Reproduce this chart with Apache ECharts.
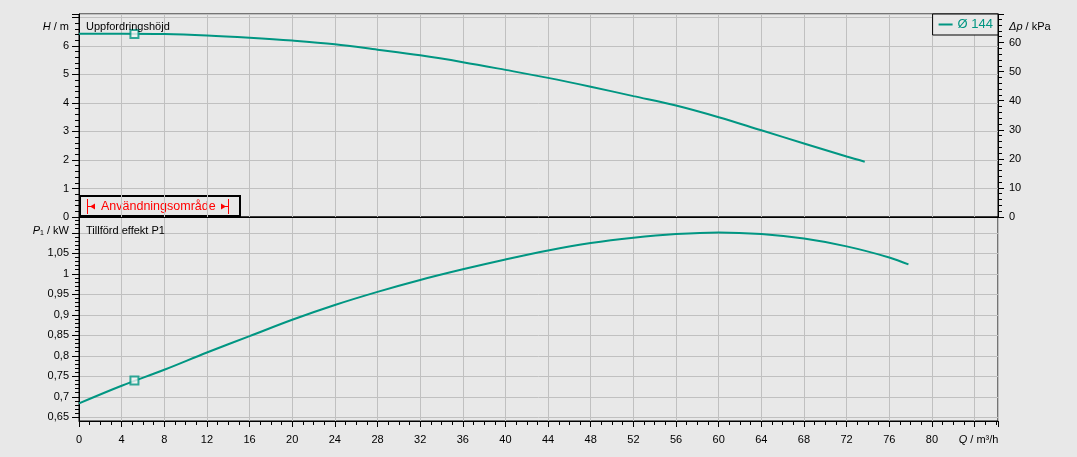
<!DOCTYPE html>
<html><head><meta charset="utf-8">
<script src="https://cdn.jsdelivr.net/npm/echarts@6/dist/echarts.min.js"></script>
<style>html,body{margin:0;padding:0;background:#e8e8e8}#c{width:1077px;height:457px}</style>
</head><body><div id="c"></div>
<script>
// ---- data ----
const flowQ_H = [0,4,8,12,16,20,24,28,32,36,40,44,48,52,56,60,64,68,72,73.7];
const headH   = [6.43,6.43,6.42,6.37,6.29,6.19,6.06,5.87,5.67,5.43,5.16,4.88,4.57,4.24,3.91,3.50,3.04,2.58,2.12,1.94];
const flowQ_P = [0,4,8,12,16,20,24,28,32,36,40,44,48,52,56,60,64,68,72,76,77.8];
const powerP1 = [0.684,0.727,0.766,0.808,0.848,0.888,0.924,0.956,0.985,1.011,1.035,1.057,1.075,1.088,1.097,1.101,1.097,1.086,1.067,1.040,1.023];
const dutyQ = 5.2, dutyH = 6.42, dutyP = 0.74;
const seriesName = 'Ø 144';
// tick values
const pMajorTicks = [0.65,0.7,0.75,0.8,0.85,0.9,0.95,1,1.05,1.1];
const pLabelTicks = [0.65,0.7,0.75,0.8,0.85,0.9,0.95,1,1.05];
const pMinorTicks = [];
for (let i = 65; i <= 113; i++) pMinorTicks.push(i / 100);

const TEAL = '#009682', GRID = '#c0c0c0', BG = '#e8e8e8', FONT = 'Liberation Sans, Arial, sans-serif';
const lbl = { color: '#000', fontFamily: FONT, fontSize: 11 };
const noMinorSplit = { show: false };

const chart = echarts.init(document.getElementById('c'), null, { renderer: 'canvas' });
const zip = (a, b) => a.map((v, i) => [v, b[i]]);

chart.setOption({
  backgroundColor: BG,
  animation: false,
  textStyle: { fontFamily: FONT },
  grid: [
    { left: 79, right: 79, top: 14, height: 203, show: true, borderColor: '#000', borderWidth: 1, backgroundColor: 'transparent' },
    { left: 79, right: 79, top: 217, bottom: 36, show: true, borderColor: '#000', borderWidth: 1, backgroundColor: 'transparent' }
  ],
  legend: {
    data: [seriesName], right: 79, top: 14, orient: 'horizontal',
    padding: [4, 5, 4, 6], itemGap: 4, itemWidth: 14, itemHeight: 2,
    icon: 'rect', borderColor: '#000', borderWidth: 1, borderRadius: 0, backgroundColor: BG,
    textStyle: { color: TEAL, fontSize: 13, fontFamily: FONT, padding: [0, 0, 0, 0] },
    itemStyle: { color: TEAL }
  },
  xAxis: [
    { type: 'value', gridIndex: 0, min: 0, max: 86.2, interval: 4,
      axisLine: { show: true, lineStyle: { color: '#000', width: 1 } },
      axisTick: { show: false }, axisLabel: { show: false },
      minorTick: { show: false }, minorSplitLine: noMinorSplit,
      splitLine: { show: true, lineStyle: { color: GRID, width: 1 } } },
    { type: 'value', gridIndex: 1, min: 0, max: 86.2, interval: 4,
      axisLine: { show: true, onZero: false, lineStyle: { color: '#000', width: 1 } },
      axisTick: { show: true, length: 6, lineStyle: { color: '#000' } },
      minorTick: { show: true, splitNumber: 4, length: 4, lineStyle: { color: '#000' } },
      minorSplitLine: noMinorSplit,
      splitLine: { show: true, lineStyle: { color: GRID, width: 1 } },
      axisLabel: Object.assign({}, lbl, { margin: 13, showMaxLabel: true,
        formatter: v => v === 84 ? '{i|Q}{n| / m³/h}' : (v > 84 ? '' : String(v)),
        rich: { i: { fontStyle: 'italic', fontSize: 11, fontFamily: FONT, color: '#000', padding: [0, 0, 0, 8] },
                n: { fontSize: 11, fontFamily: FONT, color: '#000' } } }) }
  ],
  yAxis: [
    { type: 'value', gridIndex: 0, position: 'left', min: 0, max: 7.12, interval: 1,
      axisLine: { show: true, lineStyle: { color: '#000' } },
      axisTick: { show: true, length: 7, lineStyle: { color: '#000' } },
      minorTick: { show: true, splitNumber: 5, length: 4, lineStyle: { color: '#000' } },
      minorSplitLine: noMinorSplit,
      splitLine: { show: true, lineStyle: { color: GRID, width: 1 } },
      axisLabel: Object.assign({}, lbl, { margin: 10, formatter: v => v > 6.5 ? '' : String(v) }) },
    { type: 'value', gridIndex: 0, position: 'right', min: 0, max: 69.8, interval: 10,
      axisLine: { show: true, lineStyle: { color: '#000' } },
      axisTick: { show: true, length: 6, lineStyle: { color: '#000' } },
      minorTick: { show: true, splitNumber: 5, length: 4, lineStyle: { color: '#000' } },
      minorSplitLine: noMinorSplit,
      splitLine: { show: false },
      axisLabel: Object.assign({}, lbl, { margin: 11, showMaxLabel: false, formatter: v => v > 65 ? '' : String(v) }) },
    { type: 'value', gridIndex: 1, position: 'left', min: 0.641, max: 1.1386,
      axisLine: { show: true, lineStyle: { color: '#000' } },
      axisTick: { show: true, length: 7, customValues: pMajorTicks, lineStyle: { color: '#000' } },
      minorTick: { show: false }, minorSplitLine: noMinorSplit,
      splitLine: { show: true, lineStyle: { color: GRID, width: 1 } },
      axisLabel: Object.assign({}, lbl, { margin: 10, customValues: pLabelTicks,
        formatter: v => String(Math.round(v * 100) / 100).replace('.', ',') }) },
    { type: 'value', gridIndex: 1, position: 'left', min: 0.641, max: 1.1386,
      axisLine: { show: false },
      axisTick: { show: true, length: 4, customValues: pMinorTicks, lineStyle: { color: '#000' } },
      minorTick: { show: false }, minorSplitLine: noMinorSplit,
      splitLine: { show: false }, axisLabel: { show: false } }
  ],
  series: [
    { name: seriesName, type: 'line', xAxisIndex: 0, yAxisIndex: 0, data: zip(flowQ_H, headH),
      smooth: 0.35, showSymbol: false, lineStyle: { color: TEAL, width: 2 }, itemStyle: { color: TEAL }, z: 3 },
    { name: seriesName, type: 'line', xAxisIndex: 1, yAxisIndex: 2, data: zip(flowQ_P, powerP1),
      smooth: 0.35, showSymbol: false, lineStyle: { color: TEAL, width: 2 }, itemStyle: { color: TEAL }, z: 3 },
    { name: seriesName, type: 'scatter', xAxisIndex: 0, yAxisIndex: 0, data: [[dutyQ, dutyH]],
      symbol: 'rect', symbolSize: 8, itemStyle: { color: '#f4f4f4', borderColor: TEAL, borderWidth: 2 }, z: 5 },
    { name: seriesName, type: 'scatter', xAxisIndex: 1, yAxisIndex: 2, data: [[dutyQ, dutyP]],
      symbol: 'rect', symbolSize: 8, itemStyle: { color: '#f4f4f4', borderColor: TEAL, borderWidth: 2 }, z: 5 }
  ],
  graphic: [
    { type: 'text', z: 10, style: { x: 69, y: 27, align: 'right', verticalAlign: 'middle',
      text: '{i|H}{n| / m}', rich: { i: { fontStyle: 'italic', fontSize: 11, fontFamily: FONT, fill: '#000' }, n: { fontSize: 11, fontFamily: FONT, fill: '#000' } } } },
    { type: 'text', z: 10, style: { x: 1009, y: 27, align: 'left', verticalAlign: 'middle',
      text: '{i|Δp}{n| / kPa}', rich: { i: { fontStyle: 'italic', fontSize: 11, fontFamily: FONT, fill: '#000' }, n: { fontSize: 11, fontFamily: FONT, fill: '#000' } } } },
    { type: 'text', z: 10, style: { x: 69, y: 231, align: 'right', verticalAlign: 'middle',
      text: '{i|P}{s|1}{n| / kW}', rich: { i: { fontStyle: 'italic', fontSize: 11, fontFamily: FONT, fill: '#000' }, s: { fontSize: 7, fontFamily: FONT, fill: '#000', padding: [4, 0, 0, 0] }, n: { fontSize: 11, fontFamily: FONT, fill: '#000' } } } },
    { type: 'text', z: 10, style: { x: 86, y: 27, align: 'left', verticalAlign: 'middle', text: 'Uppfordringshöjd', fontSize: 11, fontFamily: FONT, fill: '#000' } },
    { type: 'text', z: 10, style: { x: 86, y: 231, align: 'left', verticalAlign: 'middle', text: 'Tillförd effekt P1', fontSize: 11, fontFamily: FONT, fill: '#000' } },
    { type: 'group', z: 10, children: [
      { type: 'rect', shape: { x: 80, y: 196, width: 160, height: 20 }, style: { fill: BG, stroke: '#000', lineWidth: 2 } },
      { type: 'line', shape: { x1: 87.5, y1: 199, x2: 87.5, y2: 214 }, style: { stroke: '#ff0000', lineWidth: 1 } },
      { type: 'polygon', shape: { points: [[90, 206.5], [95, 203.5], [95, 209.5]] }, style: { fill: '#ff0000' } },
      { type: 'line', shape: { x1: 88, y1: 206.5, x2: 95, y2: 206.5 }, style: { stroke: '#ff0000', lineWidth: 1 } },
      { type: 'text', style: { x: 101, y: 207, align: 'left', verticalAlign: 'middle', text: 'Användningsområde', fontSize: 12.5, fontFamily: FONT, fill: '#ff0000' } },
      { type: 'polygon', shape: { points: [[226, 206.5], [221, 203.5], [221, 209.5]] }, style: { fill: '#ff0000' } },
      { type: 'line', shape: { x1: 221, y1: 206.5, x2: 228, y2: 206.5 }, style: { stroke: '#ff0000', lineWidth: 1 } },
      { type: 'line', shape: { x1: 228.5, y1: 199, x2: 228.5, y2: 214 }, style: { stroke: '#ff0000', lineWidth: 1 } }
    ] }
  ]
});
</script>
</body></html>
